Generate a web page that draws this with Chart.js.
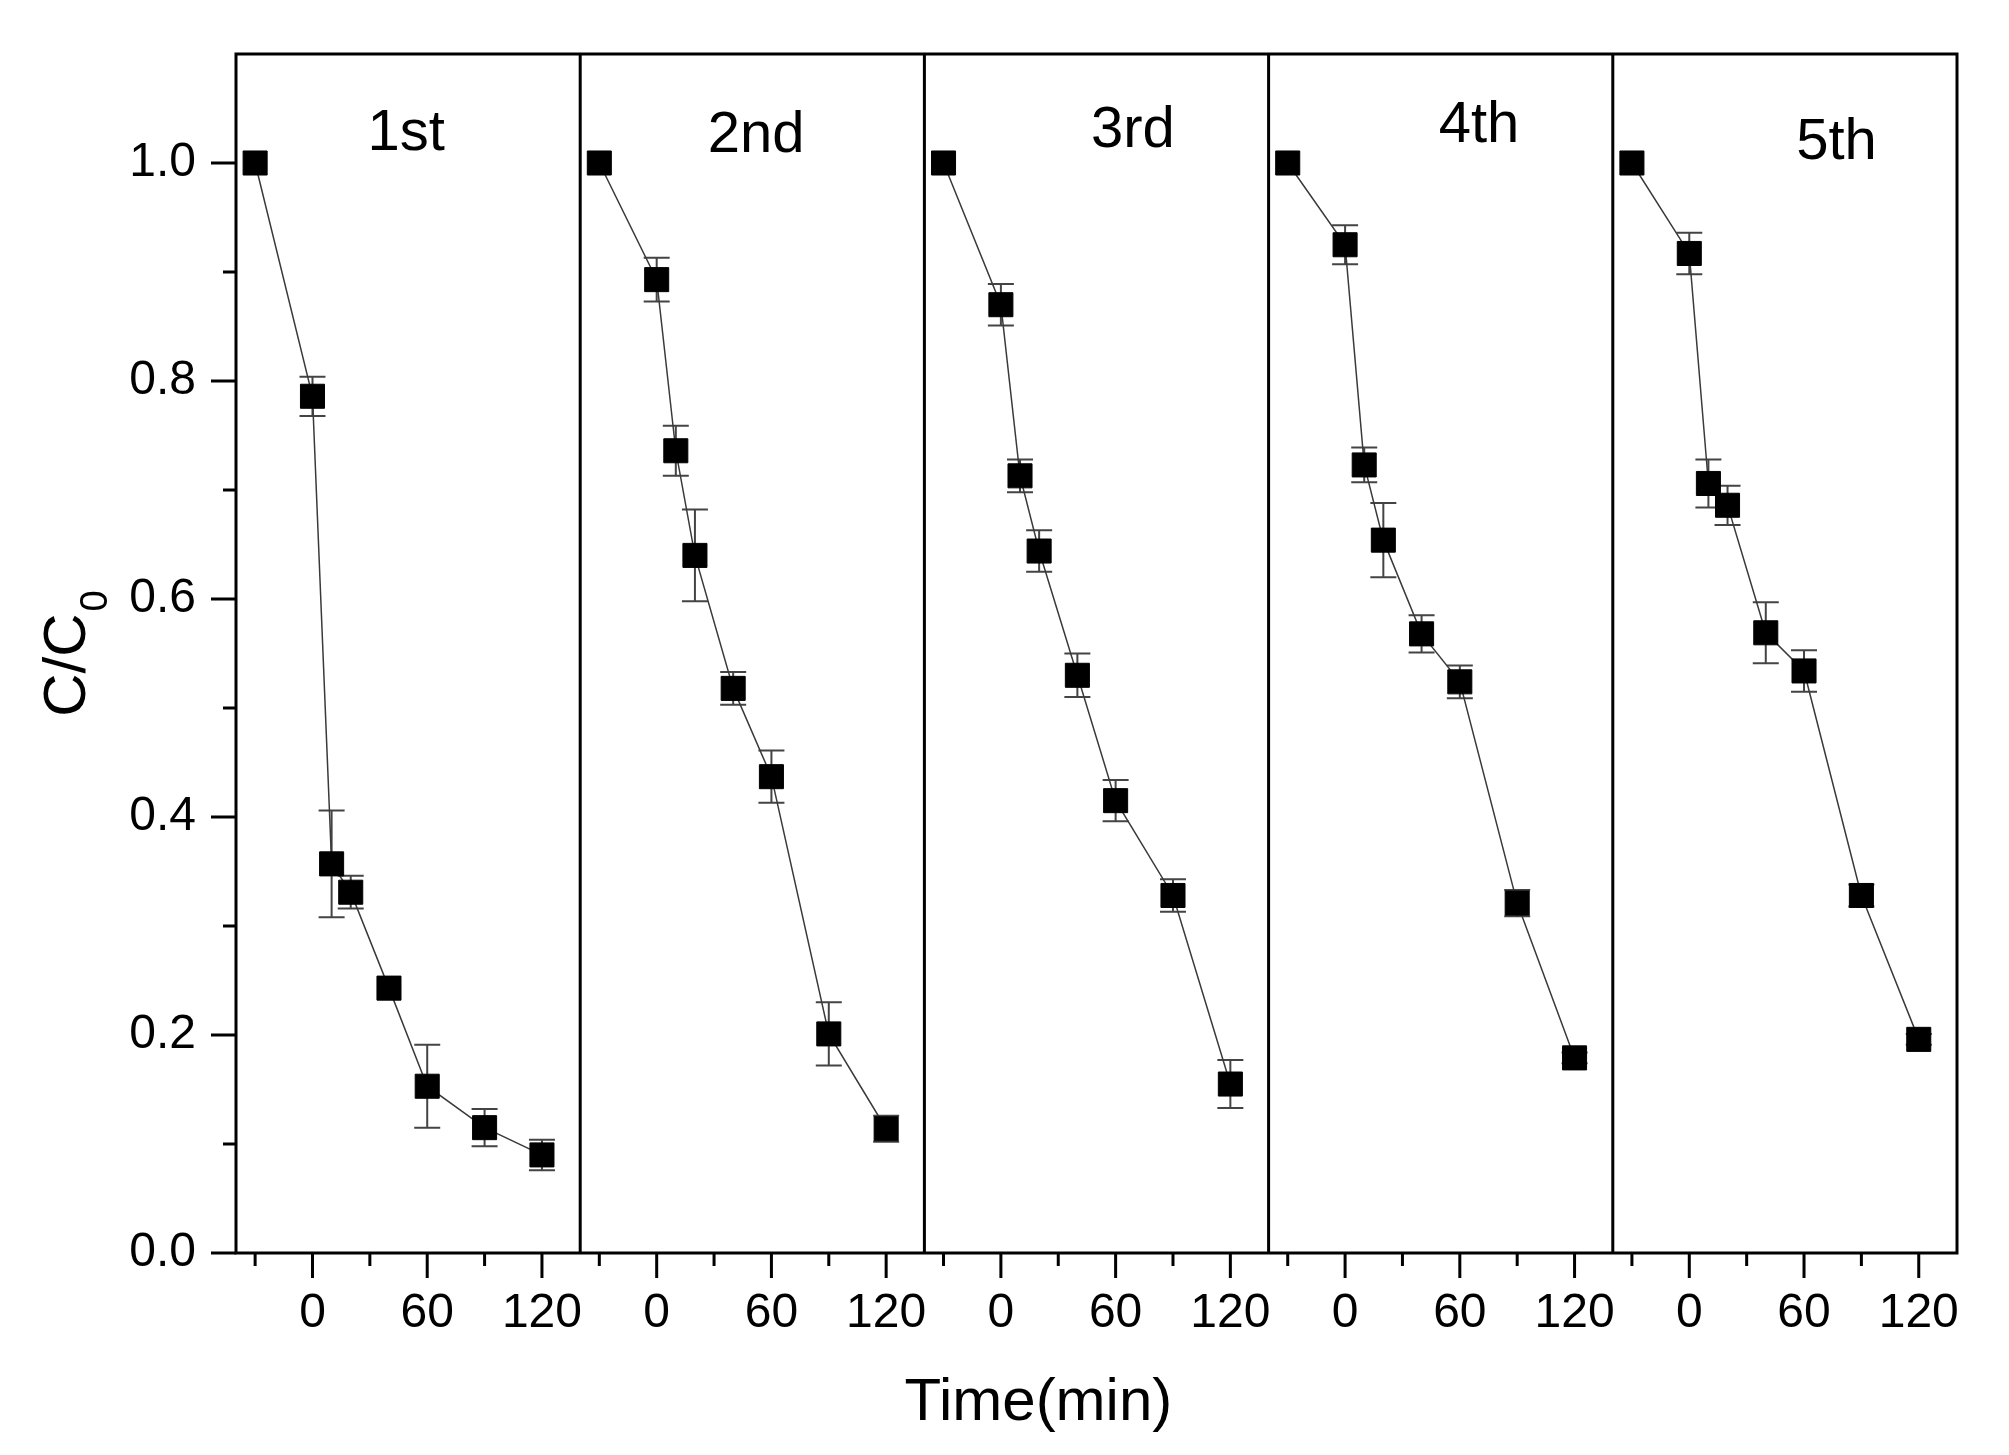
<!DOCTYPE html>
<html>
<head>
<meta charset="utf-8">
<title>C/C0 vs time, five cycles</title>
<script src="https://cdn.jsdelivr.net/npm/chart.js@4.4.1/dist/chart.umd.min.js"></script>
<style>
    html, body { margin: 0; padding: 0; background: #fff; }
    canvas { display: block; }
</style>
</head>
<body>
<canvas id="cycleChart" width="2009" height="1455"></canvas>

<script type="text/JavaScript">

//------------------------------------------------------------------------------------------
// Data
//------------------------------------------------------------------------------------------

// sampling times (min), same for every run
var times = [-30, 0, 10, 20, 40, 60, 90, 120];
var cycles = ["1st", "2nd", "3rd", "4th", "5th"];

// C/C0 for each run
var run1 = [1.000, 0.786, 0.357, 0.331, 0.243, 0.153, 0.115, 0.090];
var run2 = [1.000, 0.893, 0.736, 0.640, 0.518, 0.437, 0.201, 0.114];
var run3 = [1.000, 0.870, 0.713, 0.644, 0.530, 0.415, 0.328, 0.155];
var run4 = [1.000, 0.925, 0.723, 0.654, 0.568, 0.524, 0.321, 0.179];
var run5 = [1.000, 0.917, 0.706, 0.686, 0.569, 0.534, 0.328, 0.196];

// error bar half-heights
var err1 = [0, 0.018, 0.049, 0.015, 0, 0.038, 0.017, 0.014];
var err2 = [0, 0.020, 0.023, 0.042, 0.015, 0.024, 0.029, 0.012];
var err3 = [0, 0.019, 0.015, 0.019, 0.020, 0.019, 0.015, 0.022];
var err4 = [0, 0.018, 0.016, 0.034, 0.017, 0.015, 0.012, 0.005];
var err5 = [0, 0.019, 0.022, 0.018, 0.028, 0.019, 0.010, 0.005];

// ticks and tick labels
var yLabels = [0.0, 0.2, 0.4, 0.6, 0.8, 1.0];
var xTicks = [-30, 0, 30, 60, 90, 120];
var xLabels = [0, 60, 120];

// where the run names sit, in data units of each panel
var nameX = [49, 52, 69, 70, 77];
var nameY = [1.027, 1.025, 1.029, 1.034, 1.018];

var runs = [run1, run2, run3, run4, run5];
var errs = [err1, err2, err3, err4, err5];
var FONT = "'Liberation Sans', Arial, sans-serif";

//------------------------------------------------------------------------------------------
// Frame, tick marks, error bars, run names and axis titles
//------------------------------------------------------------------------------------------
var panelDecor = {
    id: 'panelDecor',
    beforeDatasetsDraw: function(chart) {
        var ctx = chart.ctx;
        var ys = chart.scales.y;
        ctx.save();
        ctx.strokeStyle = '#444';
        ctx.lineWidth = 2;
        chart.data.datasets.forEach(function(ds, i) {
            var xs = chart.scales['x' + (i + 1)];
            ds.data.forEach(function(p, j) {
                var e = errs[i][j];
                if (!e) return;
                var px = xs.getPixelForValue(p.x);
                var top = ys.getPixelForValue(p.y + e);
                var bot = ys.getPixelForValue(p.y - e);
                ctx.beginPath();
                ctx.moveTo(px, top); ctx.lineTo(px, bot);
                ctx.moveTo(px - 13, top); ctx.lineTo(px + 13, top);
                ctx.moveTo(px - 13, bot); ctx.lineTo(px + 13, bot);
                ctx.stroke();
            });
        });
        ctx.restore();
    },
    afterDraw: function(chart) {
        var ctx = chart.ctx;
        var area = chart.chartArea;
        var ys = chart.scales.y;
        ctx.save();
        ctx.strokeStyle = '#000';
        ctx.lineWidth = 3;

        // outer frame and panel separators
        ctx.strokeRect(area.left, area.top, area.right - area.left, area.bottom - area.top);
        ctx.beginPath();
        for (var k = 1; k < cycles.length; k++) {
            var sx = chart.scales['x' + k].right;
            ctx.moveTo(sx, area.top); ctx.lineTo(sx, area.bottom);
        }
        ctx.stroke();

        // y ticks: major every 0.2, minor in between
        ctx.beginPath();
        ys.ticks.forEach(function(t) {
            if (t.value > ys.max - 1e-6) return;
            var major = Math.round(t.value * 10) % 2 === 0;
            var py = ys.getPixelForValue(t.value);
            ctx.moveTo(area.left, py); ctx.lineTo(area.left - (major ? 25 : 13), py);
        });
        // x ticks of every panel
        for (var n = 1; n <= cycles.length; n++) {
            var xs = chart.scales['x' + n];
            xs.ticks.forEach(function(t) {
                var major = xLabels.indexOf(t.value) >= 0;
                var px = xs.getPixelForValue(t.value);
                ctx.moveTo(px, area.bottom); ctx.lineTo(px, area.bottom + (major ? 25 : 13));
            });
        }
        ctx.stroke();

        // run names
        ctx.fillStyle = '#000';
        ctx.font = '58px ' + FONT;
        ctx.textAlign = 'center';
        ctx.textBaseline = 'middle';
        cycles.forEach(function(name, i) {
            var xs = chart.scales['x' + (i + 1)];
            ctx.fillText(name, xs.getPixelForValue(nameX[i]), ys.getPixelForValue(nameY[i]));
        });

        // x title, a little left of the middle panel's centre
        var x3 = chart.scales.x3;
        ctx.font = '60px ' + FONT;
        ctx.textBaseline = 'middle';
        ctx.fillText('Time(min)', x3.left + 114, area.bottom + 150);

        // y title C/C0 with subscript
        ctx.font = '60px ' + FONT;
        var w1 = ctx.measureText('C/C').width;
        ctx.font = '38px ' + FONT;
        var w2 = ctx.measureText('0').width;
        var mid = (area.top + area.bottom) / 2;
        ctx.translate(85, mid + (w1 + w2 + 2) / 2);
        ctx.rotate(-Math.PI / 2);
        ctx.textAlign = 'left';
        ctx.textBaseline = 'alphabetic';
        ctx.font = '60px ' + FONT;
        ctx.fillText('C/C', 0, 0);
        ctx.font = '38px ' + FONT;
        ctx.fillText('0', w1 + 2, 22);
        ctx.restore();
    }
};

//------------------------------------------------------------------------------------------
// Scales: one y axis, five x axes stacked side by side
//------------------------------------------------------------------------------------------
var scales = {
    y: {
        type: 'linear',
        position: 'left',
        min: 0,
        max: 1.1,
        grid: { display: false, drawTicks: false },
        border: { display: false },
        ticks: {
            stepSize: 0.1,
            autoSkip: false,
            padding: 40,
            color: '#000',
            font: { family: FONT, size: 48 },
            callback: function(v) {
                var hit = yLabels.some(function(l) { return Math.abs(l - v) < 1e-6; });
                return hit ? v.toFixed(1) : '';
            }
        },
        afterFit: function(s) {
            s.width = 236;
            s.paddingTop = 0;
            s.paddingBottom = 0;
        }
    }
};

var datasets = [];
for (var i = 0; i < cycles.length; i++) {
    var id = 'x' + (i + 1);
    scales[id] = {
        type: 'linear',
        position: 'bottom',
        stack: 'panels',
        stackWeight: 1,
        min: -40,
        max: 140,
        grid: { display: false, drawTicks: false },
        border: { display: false },
        afterBuildTicks: function(s) {
            s.ticks = xTicks.map(function(v) { return { value: v }; });
        },
        ticks: {
            autoSkip: false,
            maxRotation: 0,
            minRotation: 0,
            padding: 32,
            color: '#000',
            font: { family: FONT, size: 48 },
            callback: function(v) { return xLabels.indexOf(v) >= 0 ? String(v) : ''; }
        },
        afterFit: function(s) {
            s.height = 202;
            s.paddingLeft = 0;
            s.paddingRight = 0;
        }
    };

    var pts = [];
    for (var j = 0; j < times.length; j++) {
        pts.push({ x: times[j], y: runs[i][j] });
    }
    datasets.push({
        label: cycles[i],
        data: pts,
        xAxisID: id,
        yAxisID: 'y',
        borderColor: '#3a3a3a',
        borderWidth: 1.5,
        tension: 0,
        pointStyle: 'rect',
        pointRadius: 17,
        pointHoverRadius: 17,
        pointBackgroundColor: '#000',
        pointBorderColor: '#000',
        pointBorderWidth: 1
    });
}

//------------------------------------------------------------------------------------------
var ctxC = document.getElementById("cycleChart").getContext('2d');
var myChart = new Chart(ctxC, {
    type: 'line',
    data: { datasets: datasets },
    options: {
        responsive: false,
        devicePixelRatio: 1,
        animation: false,
        layout: { padding: { top: 54, right: 52, left: 0, bottom: 0 } },
        plugins: {
            legend: { display: false },
            tooltip: { enabled: false }
        },
        scales: scales
    },
    plugins: [panelDecor]
}); //Chart()

</script>
</body>
</html>
